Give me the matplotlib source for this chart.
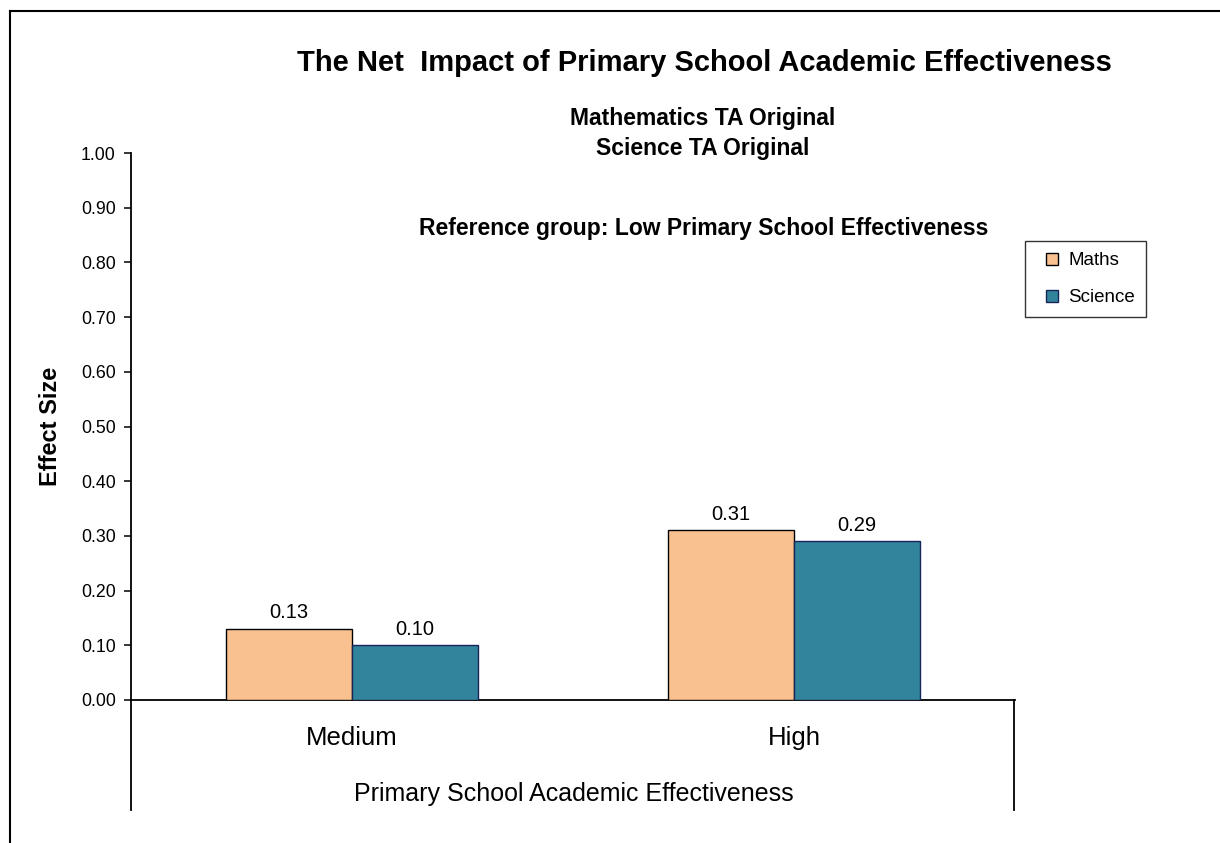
import matplotlib
matplotlib.use("Agg")
import matplotlib.pyplot as plt
from matplotlib.lines import Line2D
import numpy as np

plt.rcParams["font.family"] = ["Liberation Sans", "DejaVu Sans"]

# ─── data ───
categories = ["Medium", "High"]
maths = [0.13, 0.31]
science = [0.10, 0.29]
series_names = ["Maths", "Science"]
y_ticks = [0.0, 0.1, 0.2, 0.3, 0.4, 0.5, 0.6, 0.7, 0.8, 0.9, 1.0]

COLORS = {
    "maths": "#F9C18F",
    "maths_edge": "#000000",
    "science": "#31849B",
    "science_edge": "#17255A",
    "line": "#000000",
}

W, H = 1220, 843
fig = plt.figure(figsize=(W / 100, H / 100), dpi=100)
fig.patch.set_facecolor("white")


def fx(px):
    return px / W


def fy(py):
    return 1 - py / H


ax = fig.add_axes([fx(131), fy(700), fx(1015) - fx(131), fy(153) - fy(700)])
ax.set_facecolor("white")

x = np.arange(len(categories))
bw = 0.285
ax.bar(x - bw / 2, maths, bw, color=COLORS["maths"], edgecolor=COLORS["maths_edge"],
       linewidth=1.0, zorder=3)
ax.bar(x + bw / 2, science, bw, color=COLORS["science"], edgecolor=COLORS["science_edge"],
       linewidth=1.0, zorder=3)

for xi, v in zip(x - bw / 2, maths):
    ax.text(xi, v + 0.012, f"{v:.2f}", ha="center", va="bottom", fontsize=14.5)
for xi, v in zip(x + bw / 2, science):
    ax.text(xi, v + 0.012, f"{v:.2f}", ha="center", va="bottom", fontsize=14.5)

ax.set_xlim(-0.5, 1.5)
ax.set_ylim(0, 1.0)
ax.set_yticks(y_ticks)
ax.set_yticklabels([f"{t:.2f}" for t in y_ticks], fontsize=12.8)
ax.tick_params(axis="y", direction="out", length=5, width=1.1, pad=6)
ax.set_xticks([])

for s in ["top", "right"]:
    ax.spines[s].set_visible(False)
ax.spines["left"].set_linewidth(1.3)
ax.spines["bottom"].set_linewidth(1.3)

# category labels under the axis
for xi, c in zip(x, categories):
    fig.text(fx(131 + (xi + 0.5) * 442), fy(738), c, ha="center", va="center", fontsize=18.5)
fig.text(fx(574), fy(794), "Primary School Academic Effectiveness",
         ha="center", va="center", fontsize=18)

ax.set_ylabel("Effect Size", fontsize=17, fontweight="bold")
ax.yaxis.set_label_coords((62 - 131) / 884, 0.5)

# extended category-axis lines
fig.add_artist(Line2D([fx(131), fx(131)], [fy(700), fy(810)], color="black", lw=1.3))
fig.add_artist(Line2D([fx(1014), fx(1014)], [fy(700), fy(810)], color="black", lw=1.3))

# outer frame (cropped on right and bottom)
fig.add_artist(Line2D([fx(10), fx(10)], [fy(11), 0], color="black", lw=1.5))
fig.add_artist(Line2D([fx(10), 1], [fy(11), fy(11)], color="black", lw=1.5))

# titles
fig.text(fx(704), fy(63), "The Net  Impact of Primary School Academic Effectiveness",
         ha="center", va="center", fontsize=21, fontweight="bold")
fig.text(fx(703), fy(119), "Mathematics TA Original", ha="center", va="center",
         fontsize=16.5, fontweight="bold")
fig.text(fx(703), fy(149), "Science TA Original", ha="center", va="center",
         fontsize=16.5, fontweight="bold")
fig.text(fx(704), fy(228), "Reference group: Low Primary School Effectiveness",
         ha="center", va="center", fontsize=16.5, fontweight="bold")

# legend with small square markers
handles = [
    Line2D([], [], marker="s", markersize=8.5, linestyle="none",
           markerfacecolor=COLORS["maths"], markeredgecolor=COLORS["maths_edge"]),
    Line2D([], [], marker="s", markersize=8.5, linestyle="none",
           markerfacecolor=COLORS["science"], markeredgecolor=COLORS["science_edge"]),
]
leg = fig.legend(handles, series_names, loc="upper left",
                 bbox_to_anchor=(fx(1025), fy(241)), fontsize=13.5,
                 handlelength=1.7, handletextpad=0.0,
                 labelspacing=1.05, borderpad=0.6, borderaxespad=0,
                 fancybox=False, frameon=True)
leg.get_frame().set_edgecolor("black")
leg.get_frame().set_linewidth(1.0)

fig.savefig("out.png", dpi=100, facecolor="white")
